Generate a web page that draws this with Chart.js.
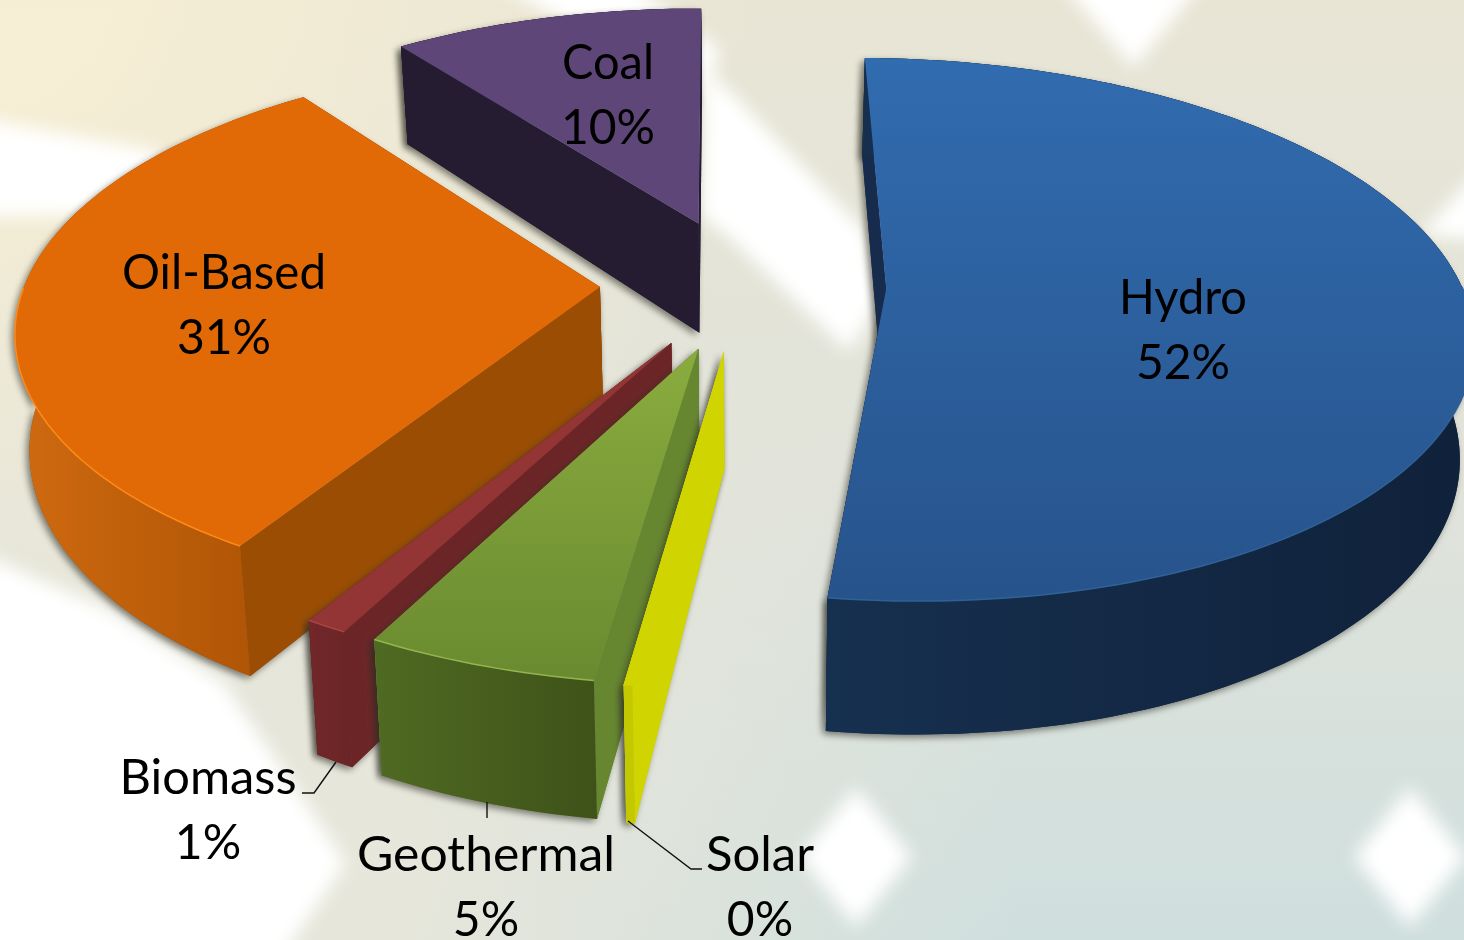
<!DOCTYPE html>
<html>
<head>
<meta charset="utf-8">
<title>Energy mix</title>
<script src="https://cdn.jsdelivr.net/npm/chart.js@4"></script>
<style>
  html, body { margin: 0; padding: 0; background: #e4e5da; overflow: hidden; }
  canvas { display: block; }
</style>
</head>
<body>
<canvas id="chart" width="1464" height="940"></canvas>
<script>
const categories = ['Hydro', 'Solar', 'Geothermal', 'Biomass', 'Oil-Based', 'Coal']
const shares = [52.0, 0.2, 5.4, 1.0, 31.1, 10.3]

const topColors = ['#316cb0', '#d0d400', '#8aac3e', '#933534', '#e26a06', '#5e4778']
const topShades = ['#27538b', '#d0d400', '#6a8a30', '#933534', '#e26a06', '#5e4778']
const cutColors = ['#172c4c', '#d0d400', '#668630', '#6b2526', '#9a4d03', '#261c32']
const rimLeft = ['#16304f', '#c4c800', '#4f6a22', '#722729', '#cf6a10', '#261c32']
const rimRight = ['#10213a', '#c4c800', '#3f5219', '#6b2526', '#a85003', '#261c32']
const rimGlints = ['#2f6298', '#d0d400', '#94b54e', '#a84442', '#ff8a1a', '#5e4778']

// where the text goes, same order as categories
const labelCenters = [[1183, 314], [760, 871], [486, 871], [208, 794], [224, 289], [608, 79]]
const labelWidths = [128, 108, 258, 177, 204, 92]
const leaderLines = [
  [[302, 793], [314, 793], [336, 762]],
  [[487, 802], [487, 818]],
  [[628, 821], [691, 869], [702, 869]],
]

// camera for the tilted pie
const viewX = 743
const viewY = 284
const spanX = 575
const spanY = 264
const tilt = 0.15
const shear = 7
const depth = 113
const taper = 0.02

function project(u, v, z) {
  const s = 1 / (1 - tilt * v)
  return [
    viewX + shear * v + spanX * u * s * (1 - taper * z),
    viewY + spanY * v * s + depth * z * s,
  ]
}

function slicePoints(arc) {
  const shift = arc.options.offset / arc.outerRadius
  const mid = (arc.startAngle + arc.endAngle) / 2
  const u0 = Math.cos(mid) * shift
  const v0 = Math.sin(mid) * shift
  const steps = Math.max(2, Math.ceil((arc.endAngle - arc.startAngle) / 0.02))
  const edge = []
  for (let k = 0; k <= steps; k++) {
    const a = arc.startAngle + (arc.endAngle - arc.startAngle) * k / steps
    edge.push([u0 + Math.cos(a), v0 + Math.sin(a)])
  }
  return { apex: [u0, v0], edge }
}

function trace(ctx, pts) {
  ctx.beginPath()
  pts.forEach((p, i) => (i ? ctx.lineTo(p[0], p[1]) : ctx.moveTo(p[0], p[1])))
  ctx.closePath()
}

function wallPoints(a, b) {
  return [project(a[0], a[1], 0), project(b[0], b[1], 0), project(b[0], b[1], 1), project(a[0], a[1], 1)]
}

function drawSlice(ctx, arc, i) {
  const { apex, edge } = slicePoints(arc)
  const first = edge[0]
  const last = edge[edge.length - 1]
  const topPath = [apex, ...edge].map((p) => project(p[0], p[1], 0))
  const rimPath = [
    ...edge.map((p) => project(p[0], p[1], 0)),
    ...edge.slice().reverse().map((p) => project(p[0], p[1], 1)),
  ]
  const cutA = wallPoints(apex, first)
  const cutB = wallPoints(apex, last)

  ctx.save()
  ctx.shadowColor = 'rgba(45,45,35,0.6)'
  ctx.shadowBlur = 7
  ctx.shadowOffsetX = -3
  ctx.shadowOffsetY = 3
  ctx.fillStyle = cutColors[i]
  ;[cutA, cutB, rimPath].forEach((pts) => { trace(ctx, pts); ctx.fill() })
  ctx.restore()

  ctx.fillStyle = cutColors[i]
  trace(ctx, cutA); ctx.fill()
  trace(ctx, cutB); ctx.fill()

  const xs = rimPath.map((p) => p[0])
  const rimFill = ctx.createLinearGradient(Math.min(...xs), 0, Math.max(...xs), 0)
  rimFill.addColorStop(0, rimLeft[i])
  rimFill.addColorStop(1, rimRight[i])
  ctx.fillStyle = rimFill
  trace(ctx, rimPath); ctx.fill()

  const ys = topPath.map((p) => p[1])
  const topFill = ctx.createLinearGradient(0, Math.min(...ys), 0, Math.max(...ys))
  topFill.addColorStop(0, arc.options.backgroundColor)
  topFill.addColorStop(1, topShades[i])
  ctx.fillStyle = topFill
  trace(ctx, topPath); ctx.fill()

  ctx.strokeStyle = rimGlints[i]
  ctx.lineWidth = 1.5
  ctx.beginPath()
  edge.forEach((p, k) => {
    const q = project(p[0], p[1], 0)
    if (p[1] > apex[1] && k) ctx.lineTo(q[0], q[1])
    else ctx.moveTo(q[0], q[1])
  })
  ctx.stroke()
}

function drawBackdrop(ctx, w, h) {
  const base = ctx.createLinearGradient(0, 0, 0, h)
  base.addColorStop(0, '#e8e5d5')
  base.addColorStop(0.5, '#e1e3da')
  base.addColorStop(1, '#cfdfde')
  ctx.fillStyle = base
  ctx.fillRect(0, 0, w, h)

  const warmTop = ctx.createRadialGradient(0, 0, 100, 0, 0, 760)
  warmTop.addColorStop(0, 'rgba(246,238,212,0.95)')
  warmTop.addColorStop(1, 'rgba(246,238,212,0)')
  ctx.fillStyle = warmTop
  ctx.fillRect(0, 0, w, h)

  const warmLow = ctx.createRadialGradient(300, 900, 100, 300, 900, 720)
  warmLow.addColorStop(0, 'rgba(236,232,218,0.8)')
  warmLow.addColorStop(1, 'rgba(236,232,218,0)')
  ctx.fillStyle = warmLow
  ctx.fillRect(0, 0, w, h)

  const whites = [
    [[-20, 118], [70, 135], [150, 150], [230, 200], [200, 260], [110, 215], [-20, 216]],
    [[490, -20], [625, -20], [720, 50], [700, 110], [600, 40]],
    [[705, 70], [732, 93], [867, 233], [880, 300], [849, 352], [732, 240], [700, 215]],
    [[1059, -20], [1204, -20], [1134, 68]],
    [[1484, 165], [1484, 240], [1420, 235]],
    [[-20, 553], [110, 610], [224, 683], [346, 863], [280, 960], [-20, 960]],
    [[856, 787], [912, 857], [856, 927], [800, 857]],
    [[1410, 787], [1466, 857], [1410, 927], [1354, 857]],
  ]
  ctx.save()
  ctx.filter = 'blur(9px)'
  ctx.fillStyle = '#ffffff'
  whites.forEach((pts) => { trace(ctx, pts); ctx.fill() })
  ctx.restore()
}

const tiltedPie = {
  id: 'tiltedPie',
  beforeDraw(chart) {
    drawBackdrop(chart.ctx, chart.width, chart.height)
  },
  beforeDatasetDraw(chart) {
    const arcs = chart.getDatasetMeta(0).data.map((arc, i) => ({ arc, i }))
    const nearness = ({ arc }) => Math.sin((arc.startAngle + arc.endAngle) / 2)
    arcs.sort((a, b) => nearness(a) - nearness(b))
    arcs.forEach(({ arc, i }) => drawSlice(chart.ctx, arc, i))
    return false
  },
  afterDraw(chart) {
    const ctx = chart.ctx
    ctx.save()
    ctx.strokeStyle = '#111'
    ctx.lineWidth = 1.4
    leaderLines.forEach((line) => {
      ctx.beginPath()
      line.forEach((p, i) => (i ? ctx.lineTo(p[0], p[1]) : ctx.moveTo(p[0], p[1])))
      ctx.stroke()
    })
    const total = shares.reduce((a, b) => a + b, 0)
    ctx.fillStyle = '#000'
    ctx.font = '48px Lato'
    ctx.textAlign = 'center'
    ctx.textBaseline = 'alphabetic'
    categories.forEach((name, i) => {
      const [x, y] = labelCenters[i]
      const pct = Math.round(shares[i] / total * 100) + '%'
      ctx.save()
      ctx.translate(x, y)
      ctx.scale(labelWidths[i] / ctx.measureText(name).width, 1)
      ctx.fillText(name, 0, 0)
      ctx.restore()
      ctx.fillText(pct, x, y + 65)
    })
    ctx.restore()
  },
}

new Chart(document.getElementById('chart'), {
  type: 'pie',
  data: {
    labels: categories,
    datasets: [
      {
        data: shares,
        backgroundColor: topColors,
        borderWidth: 0,
        offset: 104,
      },
    ],
  },
  options: {
    responsive: false,
    animation: false,
    rotation: 0.5,
    plugins: { legend: { display: false }, tooltip: { enabled: false } },
  },
  plugins: [tiltedPie],
})
</script>
</body>
</html>
